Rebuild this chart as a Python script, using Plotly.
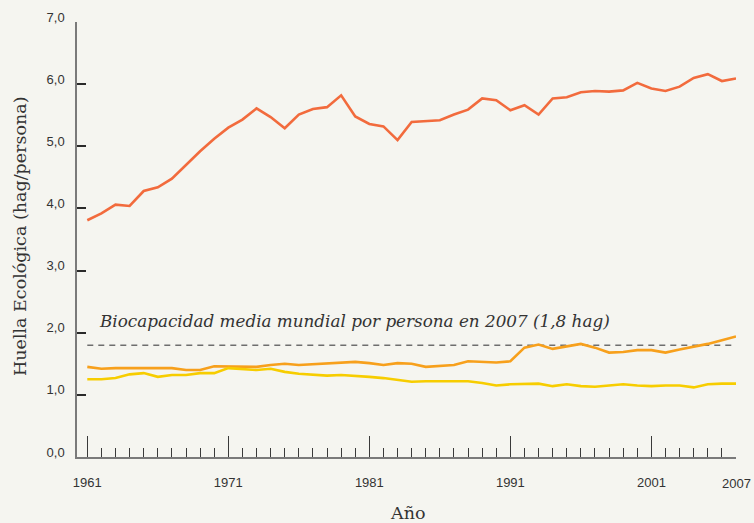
import plotly.graph_objects as go

# Huella ecológica por persona, 1961-2007 (hag/persona)
years = list(range(1961, 2008))

huella_alta = [
    3.81, 3.92, 4.06, 4.04, 4.28, 4.34, 4.48, 4.70, 4.92, 5.12,
    5.30, 5.43, 5.61, 5.47, 5.29, 5.51, 5.60, 5.63, 5.82, 5.48,
    5.36, 5.32, 5.10, 5.39, 5.41, 5.42, 5.51, 5.59, 5.77, 5.74,
    5.58, 5.66, 5.51, 5.77, 5.79, 5.87, 5.89, 5.88, 5.90, 6.02,
    5.93, 5.89, 5.96, 6.10, 6.16, 6.05, 6.09,
]

huella_media = [
    1.45, 1.42, 1.43, 1.43, 1.44, 1.43, 1.43, 1.40, 1.40, 1.46,
    1.46, 1.45, 1.45, 1.48, 1.50, 1.48, 1.49, 1.51, 1.52, 1.53,
    1.51, 1.48, 1.51, 1.50, 1.45, 1.47, 1.48, 1.54, 1.53, 1.52,
    1.54, 1.76, 1.81, 1.74, 1.78, 1.82, 1.76, 1.68, 1.69, 1.72,
    1.72, 1.68, 1.73, 1.77, 1.82, 1.88, 1.94,
]

huella_baja = [
    1.25, 1.25, 1.27, 1.33, 1.35, 1.29, 1.32, 1.32, 1.35, 1.35,
    1.43, 1.42, 1.40, 1.42, 1.37, 1.34, 1.32, 1.31, 1.32, 1.31,
    1.29, 1.27, 1.24, 1.21, 1.22, 1.22, 1.21, 1.22, 1.19, 1.15,
    1.17, 1.18, 1.18, 1.14, 1.17, 1.14, 1.13, 1.15, 1.17, 1.15,
    1.14, 1.15, 1.15, 1.12, 1.17, 1.18, 1.18,
]

biocapacidad = 1.8
y_ticks = [0, 1, 2, 3, 4, 5, 6, 7]
y_tick_text = ["0,0", "1,0", "2,0", "3,0", "4,0", "5,0", "6,0", "7,0"]
x_major = [1961, 1971, 1981, 1991, 2001]

bg = "#f5f5f0"
text_col = "#333333"
sans = "Liberation Sans"
serif = "DejaVu Serif"

# plot-area geometry in pixels (used to place the free-standing titles)
W, H = 754, 523
ML, MR, MT, MB = 77, 18, 22, 66
PW, PH = W - ML - MR, H - MT - MB


def px_to_paper(px, py):
    return (px - ML) / PW, (H - MB - py) / PH


fig = go.Figure()

fig.add_trace(go.Scatter(
    x=[years[0], years[-1]], y=[biocapacidad, biocapacidad], mode="lines",
    line=dict(color="#6e6e6e", width=1.5, dash="6px,5px"), hoverinfo="skip",
))
fig.add_trace(go.Scatter(
    x=years, y=huella_alta, mode="lines",
    line=dict(color="#f26b3d", width=2.6),
))
fig.add_trace(go.Scatter(
    x=years, y=huella_media, mode="lines",
    line=dict(color="#f7a01c", width=2.6),
))
fig.add_trace(go.Scatter(
    x=years, y=huella_baja, mode="lines",
    line=dict(color="#f7cd00", width=2.6),
))

fig.update_layout(
    width=W, height=H,
    margin=dict(l=ML, r=MR, t=MT, b=MB, autoexpand=False),
    paper_bgcolor=bg, plot_bgcolor=bg,
    showlegend=False,
    xaxis=dict(
        range=[1960.27, 2007], showgrid=False, zeroline=False, automargin=False,
        showline=True, linecolor="#7a7a7a", linewidth=1.5,
        tickmode="array", tickvals=x_major,
        ticktext=[str(v) for v in x_major],
        ticks="inside", ticklen=21, tickwidth=1.3, tickcolor="#3a3a3a",
        minor=dict(dtick=1, tick0=1961, ticks="inside", ticklen=9,
                   tickwidth=1.3, tickcolor="#3a3a3a"),
        tickfont=dict(family=sans, size=13, color=text_col),
        ticklabelstandoff=13,
    ),
    yaxis=dict(
        range=[0, 7], showgrid=False, zeroline=False, automargin=False,
        showline=True, linecolor="#7a7a7a", linewidth=1.5,
        tickmode="array", tickvals=y_ticks, ticktext=y_tick_text,
        ticks="inside", ticklen=9, tickwidth=1.5, tickcolor="#2a2a2a",
        tickfont=dict(family=sans, size=13, color=text_col),
        ticklabelstandoff=8, ticklabelshift=-5,
    ),
)

# end-of-axis year label
fig.add_annotation(
    x=years[-1], y=0, xref="x", yref="y", text=str(years[-1]),
    showarrow=False, xanchor="center", yanchor="middle", yshift=-26,
    font=dict(family=sans, size=13, color=text_col),
)

fig.add_annotation(
    x=1961.7, y=biocapacidad, xref="x", yref="y",
    text="<i>Biocapacidad media mundial por persona en 2007 (1,8 hag)</i>",
    showarrow=False, xanchor="left", yanchor="bottom", yshift=12,
    font=dict(family=serif, size=16.8, color=text_col),
)

tx, ty = px_to_paper(20, 236)
fig.add_annotation(
    x=tx, y=ty, xref="paper", yref="paper", text="Huella Ecológica (hag/persona)",
    showarrow=False, textangle=-90, xanchor="center", yanchor="middle",
    font=dict(family=serif, size=17.5, color=text_col),
)

ax, ay = px_to_paper(407, 513)
fig.add_annotation(
    x=ax, y=ay, xref="paper", yref="paper", text="Año",
    showarrow=False, xanchor="center", yanchor="middle",
    font=dict(family=serif, size=17.5, color=text_col),
)

fig.write_html("out.html")
